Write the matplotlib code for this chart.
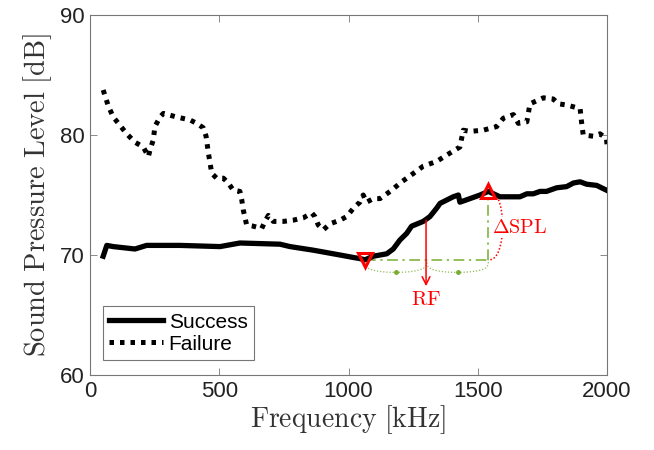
import numpy as np
import matplotlib
matplotlib.use("Agg")
import matplotlib.pyplot as plt

# ---------------- data ----------------
success_f = [51, 65, 90, 174, 219, 348, 503, 580, 735, 774, 864, 967, 1017, 1044, 1064, 1096,
             1148, 1173, 1199, 1225, 1244, 1289, 1315, 1341, 1354, 1405, 1425, 1431, 1457,
             1509, 1541, 1586, 1663, 1690, 1715, 1741, 1766, 1805, 1844, 1870, 1896, 1921,
             1960, 1998]
success_db = [69.9, 70.8, 70.7, 70.5, 70.8, 70.8, 70.7, 71.0, 70.9, 70.7, 70.4, 70.0, 69.8,
              69.7, 69.6, 69.9, 70.1, 70.5, 71.25, 71.8, 72.4, 72.8, 73.2, 73.9, 74.3, 74.85,
              75.0, 74.4, 74.6, 75.0, 75.3, 74.85, 74.85, 75.1, 75.1, 75.3, 75.3, 75.6, 75.7,
              76.0, 76.1, 75.9, 75.8, 75.4]

failure_f = [51, 71, 90, 116, 142, 174, 206, 226, 232, 245, 251, 271, 284, 335, 387, 413, 438,
             449, 458, 471, 490, 516, 535, 554, 580, 587, 593, 606, 632, 664, 677, 690, 709,
             748, 786, 825, 858, 870, 883, 903, 928, 967, 993, 1019, 1044, 1057, 1070, 1096,
             1122, 1161, 1206, 1251, 1289, 1341, 1393, 1431, 1444, 1470, 1521, 1573, 1599,
             1638, 1657, 1690, 1702, 1754, 1792, 1812, 1844, 1896, 1902, 1908, 1947, 1973,
             1998, 2000]
failure_db = [83.75, 82.4, 81.5, 80.8, 80.1, 79.4, 79.0, 78.2, 78.75, 79.6, 80.7, 81.5, 81.8,
              81.5, 81.25, 80.97, 80.6, 79.9, 78.5, 76.8, 76.4, 76.4, 76.0, 75.4, 75.3, 74.6,
              73.75, 72.5, 72.4, 72.2, 72.8, 73.3, 72.8, 72.8, 72.9, 73.1, 73.5, 73.2, 72.5,
              72.1, 72.6, 72.9, 73.2, 73.9, 74.4, 75.0, 74.4, 74.7, 74.7, 75.3, 76.1, 76.8,
              77.4, 77.8, 78.5, 79.0, 80.4, 80.3, 80.4, 80.7, 81.4, 81.7, 80.97, 81.1, 82.6,
              83.1, 83.0, 82.6, 82.5, 82.2, 81.0, 80.0, 79.9, 80.1, 79.7, 79.2]

x_ticks = [0, 500, 1000, 1500, 2000]
y_ticks = [60, 70, 80, 90]

# annotation values
rf_low_f, rf_low_db = 1064, 69.6      # minimum (down triangle)
peak_f, peak_db = 1541, 75.3          # peak (up triangle)
rf_f, rf_top_db, rf_bottom_db = 1300, 72.9, 67.4

# ---------------- plot ----------------
plt.rcParams['font.family'] = ['Liberation Sans', 'DejaVu Sans']
plt.rcParams['mathtext.fontset'] = 'cm'

fig = plt.figure(figsize=(6.54, 4.5), dpi=100)
ax = fig.add_axes([90/654, 75/450, 517/654, 360/450])

ax.plot(success_f, success_db, color='black', lw=3.8, solid_joinstyle='round',
        label='Success', zorder=3)
ax.plot(failure_f, failure_db, color='black', lw=3.6, linestyle=(0, (0.9, 1.2)),
        dash_capstyle='butt', label='Failure', zorder=3)

green = '#77AC30'
red = '#FF0000'

# green dash-dot horizontal and vertical
ax.plot([rf_low_f, peak_f], [rf_low_db, rf_low_db], color=green, lw=1.1,
        linestyle=(0, (7, 3, 1.5, 3)), zorder=2)
ax.plot([peak_f, peak_f], [rf_low_db, peak_db], color=green, lw=1.1,
        linestyle=(0, (7, 3, 1.5, 3)), zorder=2)

# green dotted brace below the horizontal line
mid = (rf_low_f + peak_f) / 2
for a, b in [(rf_low_f, mid), (mid, peak_f)]:
    c = (a + b) / 2
    hw = (b - a) / 2
    t = np.linspace(np.pi, 2 * np.pi, 60)
    xs = c + hw * np.cos(t)
    ys = rf_low_db + 1.05 * np.sign(np.sin(t)) * np.abs(np.sin(t)) ** 0.5
    ax.plot(xs, ys, color=green, lw=0.9, linestyle=(0, (1, 1.5)), alpha=0.8, zorder=2)
    ax.plot([c], [rf_low_db - 1.05], 'o', color=green, ms=2.5, zorder=2)

# red dotted arc (ΔSPL brace)
t = np.linspace(np.pi / 2, -np.pi / 2, 80)
cy = (peak_db + rf_low_db) / 2
hy = (peak_db - rf_low_db) / 2
ax.plot(peak_f + 55 * np.cos(t) ** 0.8, cy + hy * np.sin(t), color=red, lw=1.1,
        linestyle=(0, (1, 1.3)), zorder=2)

# RF arrow
ax.annotate('', xy=(rf_f, rf_bottom_db), xytext=(rf_f, rf_top_db),
            arrowprops=dict(arrowstyle='->', color=red, lw=1.1,
                            shrinkA=0, shrinkB=0, mutation_scale=14), zorder=4)
ax.text(rf_f, rf_bottom_db - 0.3, r'$\mathrm{RF}$', color=red, fontsize=15, ha='center',
        va='top', zorder=4)
ax.text(1556, cy - 0.15, r'$\Delta\mathrm{SPL}$', color=red, fontsize=14.5, ha='left',
        va='center', zorder=4, bbox=dict(facecolor='white', edgecolor='none', pad=0.5))

# triangles
ax.plot([rf_low_f], [rf_low_db], marker='v', ms=10, mfc='none', mec=red, mew=2.2,
        zorder=5, linestyle='none')
ax.plot([peak_f], [peak_db], marker='^', ms=10, mfc='none', mec=red, mew=2.2,
        zorder=5, linestyle='none')

ax.set_xlim(0, 2000)
ax.set_ylim(60, 90)
ax.set_xticks(x_ticks)
ax.set_yticks(y_ticks)
ax.tick_params(direction='in', top=True, right=True, length=5, width=0.6,
               colors='#777777', labelcolor='#222222', labelsize=16, pad=4)
for s in ax.spines.values():
    s.set_color('#777777')
    s.set_linewidth(0.8)

ax.set_xlabel(r'$\mathrm{Frequency\ [kHz]}$', fontsize=20, color='#333333', labelpad=1)
ax.set_ylabel(r'$\mathrm{Sound\ Pressure\ Level\ [dB]}$', fontsize=20.5, color='#333333',
              labelpad=4)

leg = ax.legend(loc='lower left', bbox_to_anchor=(0.025, 0.042), frameon=True,
                fancybox=False, edgecolor='#555555', handlelength=2.6, handletextpad=0.25,
                borderpad=0.3, labelspacing=0.15, borderaxespad=0,
                prop={'family': 'Liberation Sans', 'size': 15})
leg.get_frame().set_linewidth(0.8)

fig.savefig('out.png', dpi=100)
